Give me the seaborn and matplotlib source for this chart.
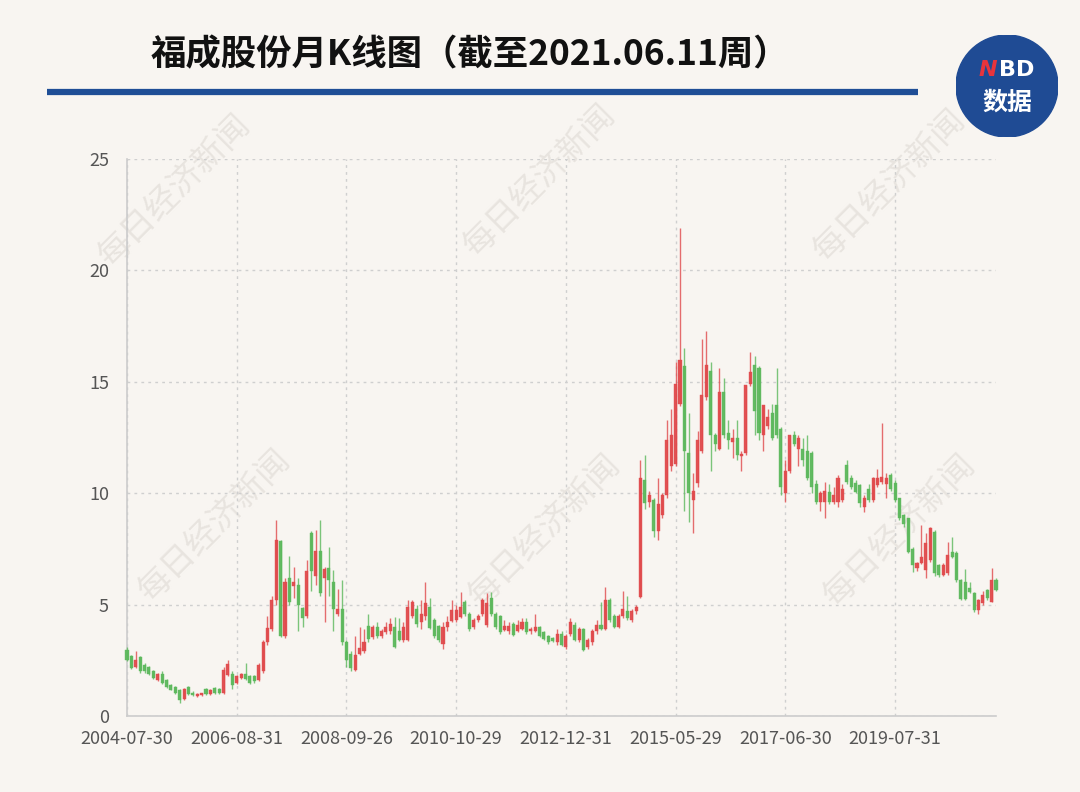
import numpy as np
import matplotlib.pyplot as plt
from matplotlib.patches import Circle
from matplotlib.lines import Line2D
import seaborn as sns

# ---------------- data (monthly OHLC) ----------------
tick_pos = [0, 25, 50, 75, 100, 125, 150, 175]
tick_labels = ['2004-07-30', '2006-08-31', '2008-09-26', '2010-10-29',
               '2012-12-31', '2015-05-29', '2017-06-30', '2019-07-31']

opens = [2.96, 2.70, 2.20, 2.65, 2.30, 2.20, 2.00, 1.60, 1.90, 1.60,
         1.40, 1.30, 1.17, 0.75, 1.30, 1.05, 0.90, 0.95, 1.20, 1.00,
         1.25, 1.20, 1.03, 1.86, 1.90, 1.50, 1.70, 1.90, 1.80, 1.80,
         1.60, 2.00, 3.30, 3.90, 5.20, 7.85, 3.60, 6.20, 5.85, 5.90,
         4.85, 4.50, 8.20, 6.30, 7.40, 6.20, 6.65, 6.00, 4.60, 4.80,
         3.30, 2.80, 2.06, 2.80, 2.90, 4.05, 3.55, 4.00, 3.60, 3.75,
         3.80, 4.00, 3.80, 3.40, 3.40, 4.50, 4.80, 4.20, 4.50, 4.90,
         4.30, 4.05, 3.25, 4.00, 4.25, 4.30, 4.45, 5.10, 4.60, 4.00,
         4.30, 4.60, 4.10, 5.30, 4.60, 4.50, 3.85, 3.80, 4.15, 3.80,
         3.90, 4.20, 3.80, 3.80, 4.00, 3.75, 3.60, 3.50, 3.30, 3.70,
         3.10, 3.70, 4.10, 3.40, 3.90, 3.10, 3.30, 3.80, 4.10, 3.90,
         5.20, 4.50, 4.00, 4.50, 4.70, 4.30, 4.70, 5.35, 10.60, 9.60,
         9.70, 8.30, 9.00, 9.90, 11.20, 11.30, 14.00, 15.70, 11.80, 9.70,
         10.45, 11.90, 14.30, 15.50, 12.60, 12.00, 14.55, 12.70, 12.30, 12.50,
         11.65, 11.80, 14.90, 15.75, 15.60, 12.60, 13.00, 13.60, 13.96, 12.90,
         10.00, 11.00, 12.60, 12.00, 12.00, 11.90, 11.80, 10.40, 9.60, 9.60,
         10.05, 9.60, 9.60, 9.70, 11.27, 10.70, 10.45, 10.37, 9.40, 10.20,
         9.70, 10.37, 10.50, 10.40, 10.80, 10.45, 9.77, 9.00, 8.87, 7.48,
         6.63, 6.85, 6.55, 7.00, 8.27, 6.78, 6.33, 6.40, 7.37, 7.30,
         6.10, 6.03, 5.73, 5.50, 4.76, 5.06, 5.66, 5.13, 6.10]

highs = [3.10, 2.75, 2.90, 2.70, 2.40, 2.25, 2.05, 1.95, 2.00, 1.65,
         1.45, 1.35, 1.20, 1.25, 1.35, 1.10, 1.05, 1.05, 1.25, 1.20,
         1.30, 1.25, 2.20, 2.50, 2.00, 1.85, 1.95, 2.40, 1.85, 1.85,
         2.40, 3.40, 4.50, 5.40, 8.80, 7.90, 6.20, 7.20, 6.70, 6.20,
         4.90, 7.00, 8.30, 8.35, 8.80, 6.70, 7.60, 6.55, 5.70, 6.10,
         3.40, 2.90, 3.60, 4.00, 3.90, 4.60, 4.10, 4.20, 3.90, 4.20,
         4.40, 4.45, 4.40, 4.20, 5.20, 5.20, 5.00, 5.20, 6.00, 5.30,
         4.40, 4.10, 4.20, 4.50, 5.20, 5.00, 5.55, 5.20, 4.65, 4.40,
         4.60, 5.30, 5.50, 5.55, 4.65, 4.55, 4.30, 4.20, 4.20, 4.30,
         4.40, 4.40, 4.00, 4.60, 4.05, 3.80, 3.65, 3.55, 3.90, 3.80,
         3.70, 4.40, 4.20, 4.00, 3.95, 3.50, 3.90, 4.30, 5.10, 5.80,
         5.30, 4.60, 4.60, 5.60, 5.40, 4.80, 5.00, 11.50, 11.70, 10.10,
         9.80, 10.70, 10.00, 13.30, 13.80, 15.90, 21.90, 16.50, 13.60, 10.90,
         12.80, 16.90, 17.30, 15.90, 12.70, 15.60, 15.15, 13.30, 12.90, 13.30,
         11.90, 14.85, 16.35, 16.15, 15.70, 13.96, 13.80, 14.00, 15.60, 12.95,
         11.50, 12.60, 12.80, 12.60, 12.50, 12.60, 11.90, 10.60, 10.10, 10.50,
         10.40, 10.30, 10.80, 10.40, 11.50, 10.80, 10.60, 10.40, 9.90, 10.40,
         10.74, 11.10, 13.14, 10.90, 10.90, 10.60, 9.80, 9.05, 8.90, 7.60,
         6.90, 8.57, 8.20, 8.50, 8.35, 6.80, 6.85, 7.82, 8.05, 7.40,
         6.15, 6.60, 6.03, 5.55, 5.25, 5.60, 5.70, 6.63, 6.20]

lows = [2.45, 2.10, 2.15, 1.95, 1.95, 1.85, 1.65, 1.55, 1.45, 1.25,
        1.15, 1.00, 0.57, 0.70, 0.95, 0.90, 0.85, 0.90, 0.95, 0.95,
        1.00, 1.00, 1.00, 1.80, 1.20, 1.45, 1.65, 1.60, 1.45, 1.50,
        1.55, 1.95, 3.20, 3.80, 5.00, 3.55, 3.50, 5.00, 5.30, 3.80,
        4.00, 4.40, 5.60, 5.90, 5.40, 4.20, 5.40, 3.80, 4.50, 3.20,
        2.20, 2.00, 2.00, 2.75, 2.85, 3.30, 3.45, 3.50, 3.50, 3.70,
        3.70, 3.05, 3.35, 3.30, 3.35, 4.40, 4.00, 3.90, 4.30, 3.90,
        3.50, 3.30, 3.00, 3.80, 4.20, 4.20, 4.40, 4.50, 3.80, 3.90,
        4.20, 4.50, 4.00, 4.50, 3.90, 3.70, 3.80, 3.70, 3.60, 3.75,
        3.85, 3.70, 3.70, 3.75, 3.55, 3.40, 3.25, 3.30, 3.20, 3.15,
        3.00, 3.60, 3.35, 3.30, 2.90, 3.00, 3.20, 3.70, 3.85, 3.85,
        4.20, 3.95, 3.95, 4.40, 4.30, 4.20, 4.60, 5.30, 9.30, 9.40,
        8.05, 7.90, 8.90, 9.80, 11.00, 11.20, 13.90, 9.20, 8.70, 8.20,
        10.30, 11.80, 14.20, 11.00, 11.90, 11.95, 12.50, 12.00, 11.60, 11.50,
        11.00, 11.70, 14.80, 12.60, 12.40, 11.90, 12.90, 12.40, 12.50, 9.90,
        9.60, 10.90, 12.10, 11.20, 11.20, 10.60, 10.00, 9.50, 9.20, 8.90,
        9.50, 9.50, 9.40, 9.60, 10.40, 10.20, 10.00, 9.40, 9.17, 9.60,
        9.60, 10.30, 10.40, 9.77, 10.10, 9.60, 8.80, 8.50, 7.30, 6.48,
        6.50, 6.80, 6.18, 6.90, 6.30, 6.25, 6.30, 6.35, 7.10, 6.00,
        5.20, 5.20, 5.50, 4.65, 4.60, 5.00, 5.20, 5.10, 5.60]

closes = [2.50, 2.15, 2.50, 2.00, 2.00, 1.90, 1.70, 1.90, 1.50, 1.30,
          1.17, 1.03, 0.70, 1.20, 1.00, 0.95, 1.00, 1.02, 1.00, 1.15,
          1.05, 1.05, 2.06, 2.35, 1.40, 1.80, 1.90, 1.65, 1.50, 1.55,
          2.30, 3.30, 3.95, 5.20, 7.90, 3.60, 6.00, 5.10, 6.00, 5.00,
          4.40, 6.50, 6.50, 7.40, 5.50, 6.60, 6.10, 4.80, 4.80, 3.30,
          2.50, 2.15, 2.75, 3.05, 3.30, 3.45, 4.00, 3.60, 3.80, 4.00,
          4.15, 3.10, 3.40, 4.00, 4.90, 5.10, 4.15, 4.60, 5.05, 3.95,
          3.60, 3.40, 4.00, 4.20, 4.75, 4.75, 4.90, 4.60, 3.90, 4.30,
          4.50, 5.20, 5.05, 4.60, 4.00, 3.75, 4.05, 4.05, 3.65, 4.10,
          4.20, 3.75, 3.90, 4.00, 3.60, 3.45, 3.30, 3.35, 3.70, 3.20,
          3.60, 4.20, 3.40, 3.90, 2.95, 3.40, 3.80, 4.10, 3.90, 5.20,
          4.30, 4.00, 4.50, 4.80, 4.40, 4.70, 4.90, 10.70, 9.55, 9.90,
          8.30, 9.50, 9.90, 12.40, 12.60, 14.90, 16.00, 11.90, 10.00, 10.10,
          12.40, 14.40, 15.75, 12.60, 12.20, 14.55, 12.60, 12.40, 12.50, 11.70,
          11.75, 14.85, 15.45, 13.70, 12.70, 13.96, 13.40, 12.50, 12.60, 10.30,
          11.00, 12.60, 12.20, 12.50, 11.50, 10.70, 10.30, 9.60, 10.00, 10.10,
          9.60, 9.90, 10.70, 10.20, 10.50, 10.30, 10.07, 9.55, 9.77, 9.70,
          10.67, 10.67, 10.74, 10.70, 10.20, 9.70, 8.90, 8.60, 7.37, 6.78,
          6.85, 7.15, 7.75, 8.42, 6.40, 6.33, 6.78, 7.23, 7.15, 6.10,
          5.24, 5.24, 5.58, 4.76, 5.20, 5.43, 5.28, 6.10, 5.66]

# ---------------- style ----------------
bg = '#f8f5f1'
up_color = '#e04a4c'
down_color = '#5cb85c'

sns.set_theme(style="whitegrid")
plt.rcParams['font.family'] = ['Noto Sans CJK SC', 'DejaVu Sans']
plt.rcParams['axes.unicode_minus'] = False

fig = plt.figure(figsize=(10.8, 7.92), dpi=100, facecolor=bg)

# watermark
for cx, cy in [(175, 190), (540, 180), (890, 185), (215, 525), (545, 530), (900, 530)]:
    fig.text(cx / 1080, 1 - cy / 792, '每日经济新闻', rotation=45, fontsize=24,
             color='#e8e4df', ha='center', va='center', zorder=-5)

# title + rule
fig.text(470 / 1080, 1 - 55 / 792, '福成股份月K线图（截至2021.06.11周）',
         fontsize=25.5, fontweight='bold', color='#111111', ha='center', va='center')
fig.add_artist(Line2D([47 / 1080, 918 / 1080], [1 - 92 / 792] * 2,
                      lw=4.5, color='#1f4e96', solid_capstyle='butt'))

# logo
lax = fig.add_axes([956 / 1080, 1 - 137 / 792, 102 / 1080, 102 / 792])
lax.set_xlim(0, 1)
lax.set_ylim(0, 1)
lax.axis('off')
lax.add_patch(Circle((0.5, 0.5), 0.5, color='#1f4b94'))
lax.text(0.40, 0.66, 'N', color='#e8343c', fontsize=16, fontweight='bold',
         fontstyle='italic', ha='right', va='center', family='DejaVu Sans')
lax.text(0.42, 0.66, 'BD', color='white', fontsize=16, fontweight='bold',
         ha='left', va='center', family='DejaVu Sans')
lax.text(0.5, 0.34, '数据', color='white', fontsize=18, fontweight='bold',
         ha='center', va='center')

# ---------------- candlesticks ----------------
ax = fig.add_axes([127 / 1080, 76 / 792, 869 / 1080, 557 / 792])
ax.set_facecolor('none')

o = np.array(opens)
h = np.array(highs)
l = np.array(lows)
c = np.array(closes)
x = np.arange(len(c))
colors = [up_color if ci >= oi else down_color for oi, ci in zip(o, c)]

ax.vlines(x, l, h, colors=colors, linewidth=1.0, alpha=0.8, zorder=3, clip_on=False)
body_low = np.minimum(o, c)
body_h = np.maximum(np.abs(c - o), 0.06)
ax.bar(x, body_h, bottom=body_low, width=0.7, color=colors, edgecolor=colors,
       linewidth=0.3, alpha=0.95, zorder=4, clip_on=False)

ax.set_xlim(0, len(c) - 1)
ax.set_ylim(0, 25)
ax.set_yticks([0, 5, 10, 15, 20, 25])
ax.set_xticks(tick_pos)
ax.set_xticklabels(tick_labels)

ax.grid(True, color='#cfcfcf', linestyle=(0, (2, 3)), linewidth=1)
ax.tick_params(axis='both', length=0, labelsize=13, labelcolor='#555555')
ax.tick_params(axis='y', pad=13)
ax.tick_params(axis='x', pad=10)
for side in ['top', 'right']:
    ax.spines[side].set_visible(False)
for side in ['left', 'bottom']:
    ax.spines[side].set_visible(True)
    ax.spines[side].set_color('#cccccc')
    ax.spines[side].set_linewidth(1.2)

fig.savefig('out.png', dpi=100, facecolor=bg)
